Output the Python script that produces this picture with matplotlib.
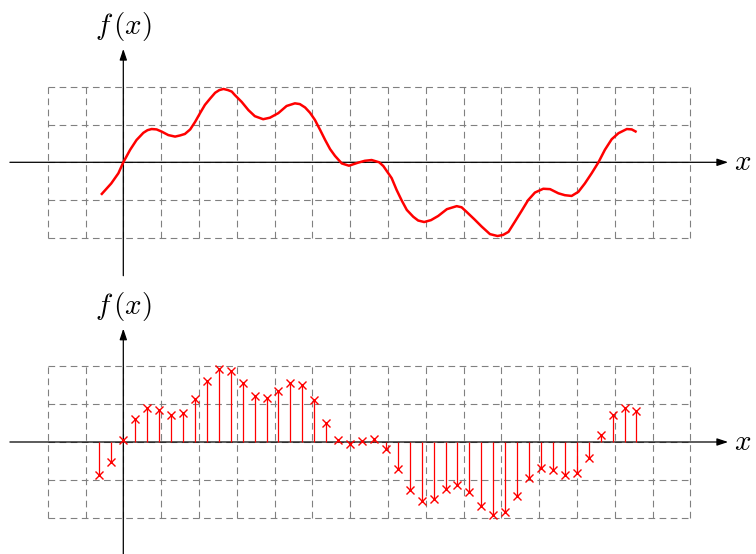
import numpy as np
import matplotlib
matplotlib.use("Agg")
import matplotlib.pyplot as plt

plt.rcParams['mathtext.fontset'] = 'cm'

# smooth curve (x, f(x))
curve_x = [-0.59, -0.32, -0.13, 0.0, 0.18, 0.35, 0.53, 0.64, 0.75, 0.88, 1.02, 1.19,
           1.37, 1.50, 1.63, 1.77, 1.90, 2.03, 2.16, 2.30, 2.43, 2.54, 2.65, 2.77,
           2.87, 2.95, 3.13, 3.31, 3.48, 3.70, 3.88, 4.10, 4.32, 4.54, 4.67, 4.81,
           4.94, 5.07, 5.21, 5.34, 5.47, 5.60, 5.78, 5.97, 6.21, 6.39, 6.57, 6.77,
           6.88, 7.10, 7.23, 7.36, 7.50, 7.67, 7.80, 7.96, 8.14, 8.33, 8.56, 8.82,
           8.95, 9.08, 9.29, 9.48, 9.70, 9.90, 10.05, 10.19, 10.36, 10.54, 10.71,
           10.89, 11.11, 11.29, 11.51, 11.68, 11.86, 12.04, 12.21, 12.39, 12.57,
           12.74, 12.92, 13.10, 13.32, 13.45, 13.58]
curve_y = [-0.86, -0.56, -0.29, 0.0, 0.33, 0.59, 0.78, 0.85, 0.88, 0.87, 0.81, 0.72,
           0.68, 0.71, 0.75, 0.87, 1.07, 1.30, 1.52, 1.69, 1.84, 1.91, 1.94, 1.91,
           1.87, 1.78, 1.60, 1.38, 1.22, 1.14, 1.18, 1.30, 1.49, 1.56, 1.54, 1.45,
           1.31, 1.12, 0.85, 0.59, 0.35, 0.17, -0.03, -0.09, -0.01, 0.04, 0.06, 0.0,
           -0.10, -0.42, -0.73, -1.0, -1.26, -1.44, -1.54, -1.58, -1.53, -1.42, -1.24, -1.16,
           -1.19, -1.31, -1.51, -1.70, -1.90, -1.95, -1.92, -1.84, -1.57, -1.28, -1.0,
           -0.80, -0.70, -0.71, -0.82, -0.87, -0.89, -0.78, -0.56, -0.29, 0.0,
           0.33, 0.61, 0.77, 0.88, 0.87, 0.80]

# sampled values (bottom panel), sample index k = -2 .. 43
sample_k = np.arange(-2, 44)
sample_y = [-0.86, -0.52, 0.05, 0.62, 0.89, 0.85, 0.71, 0.76, 1.13, 1.62, 1.93, 1.88,
            1.56, 1.23, 1.16, 1.35, 1.57, 1.51, 1.10, 0.50, 0.05, -0.06, 0.03, 0.07,
            -0.19, -0.72, -1.27, -1.56, -1.50, -1.25, -1.13, -1.31, -1.68, -1.94, -1.84,
            -1.42, -0.95, -0.69, -0.74, -0.88, -0.81, -0.43, 0.18, 0.71, 0.90, 0.81]
step = 0.3157
sample_x = sample_k * step

red = '#ff0000'
gridc = '0.5'


def draw_frame(ax):
    for gx in range(-2, 16):
        ax.plot([gx, gx], [-2, 2], color=gridc, lw=0.8, ls=(0, (6, 4)), zorder=1)
    for gy in range(-2, 3):
        ax.plot([-2, 15], [gy, gy], color=gridc, lw=0.8, ls=(0, (6, 4)), zorder=1)
    ax.annotate('', xy=(16, 0), xytext=(-3, 0),
                arrowprops=dict(arrowstyle='-|>,head_length=0.6,head_width=0.2', color='k', lw=0.9,
                                mutation_scale=11, shrinkA=0, shrinkB=0), zorder=2)
    ax.annotate('', xy=(0, 3), xytext=(0, -3),
                arrowprops=dict(arrowstyle='-|>,head_length=0.6,head_width=0.2', color='k', lw=0.9,
                                mutation_scale=11, shrinkA=0, shrinkB=0), zorder=2)
    ax.text(16.15, 0, r'$x$', fontsize=21, ha='left', va='center')
    ax.text(0, 3.58, r'$f\,(x)$', fontsize=21, ha='center', va='center')
    ax.set_xlim(-3.262, 16.738)
    ax.axis('off')


fig = plt.figure(figsize=(7.56, 5.54), dpi=100)

ax1 = fig.add_axes([0, 264 / 554, 1, 290 / 554])
draw_frame(ax1)
ax1.plot(curve_x, curve_y, color=red, lw=1.8, zorder=3,
         solid_capstyle='butt', solid_joinstyle='round')
ax1.set_ylim((162.3 - 290) / 37.8, 162.3 / 37.8)

ax2 = fig.add_axes([0, 0, 1, 264 / 554])
draw_frame(ax2)
ax2.vlines(sample_x, 0, sample_y, color=red, lw=0.9, zorder=3)
ax2.plot(sample_x, sample_y, 'x', color=red, ms=6, mew=1.0, zorder=4)
ax2.set_ylim((442 - 554) / 37.8, (442 - 290) / 37.8)

fig.savefig('out.png', dpi=100)
